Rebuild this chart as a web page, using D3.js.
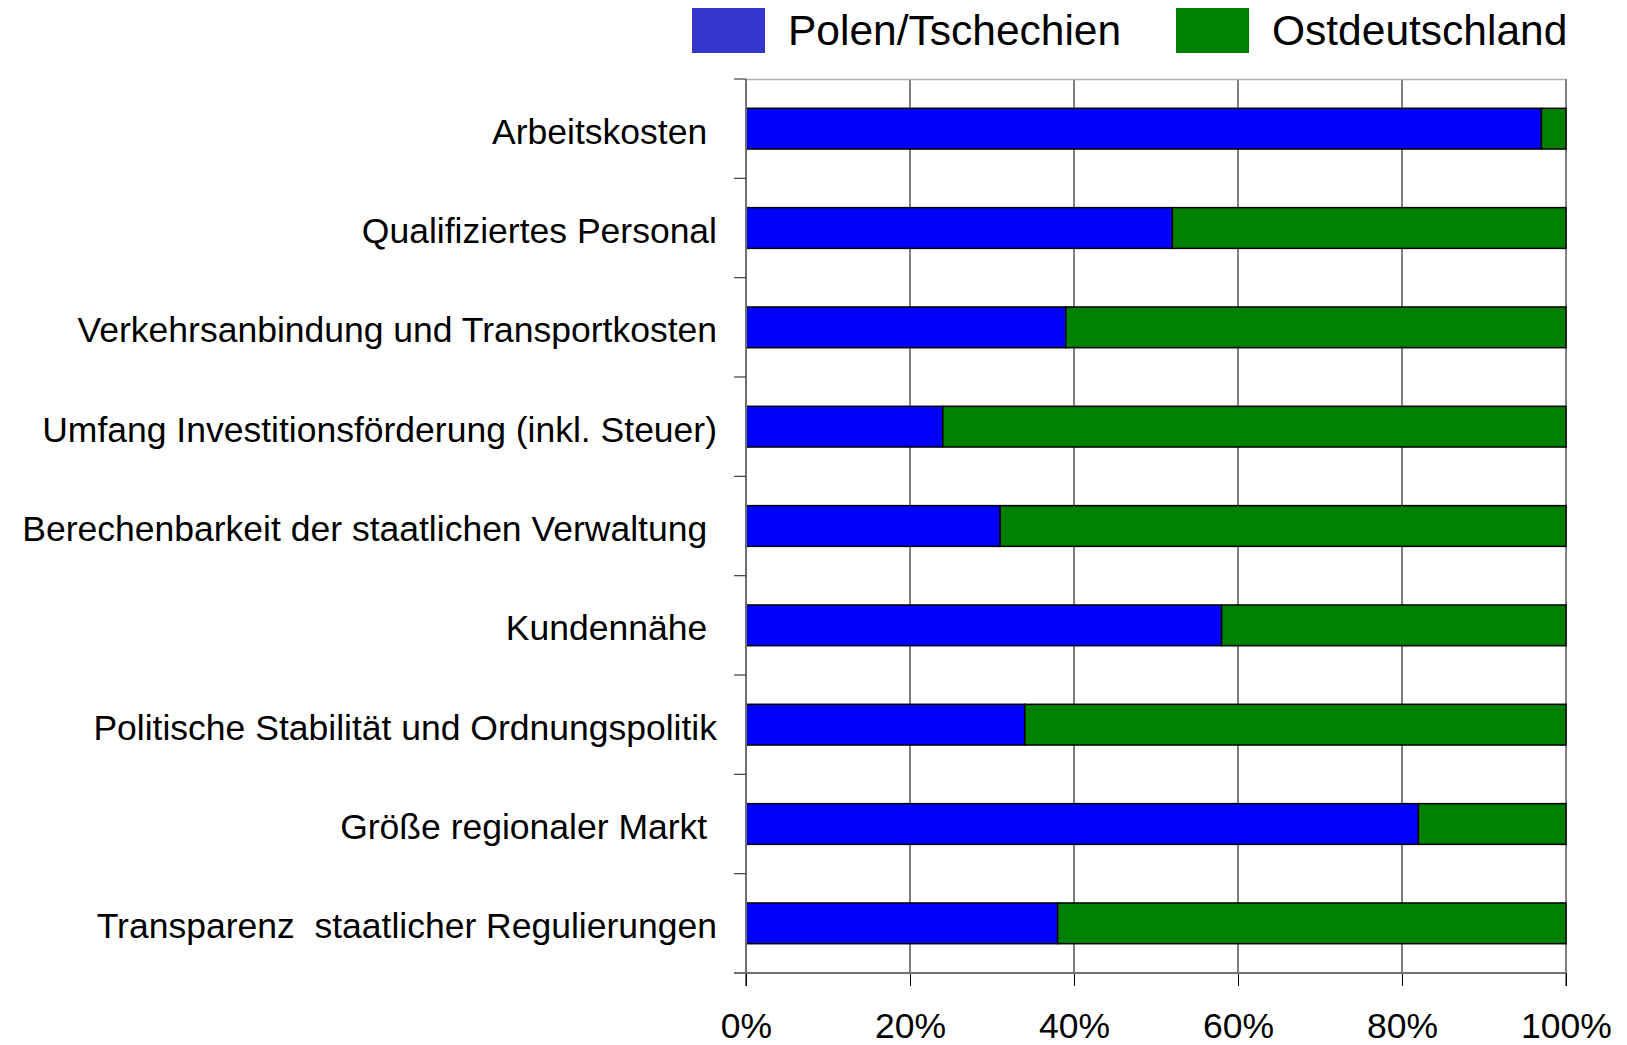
<!DOCTYPE html>
<html>
<head>
<meta charset="utf-8">
<script src="https://cdn.jsdelivr.net/npm/d3@7"></script>
<style>
    body { margin: 0; background: #fff; }
    svg text { font-family: "Liberation Sans", Arial, sans-serif; fill: #000; white-space: pre; }
</style>
</head>
<body>
<svg id="chart" width="1627" height="1045"></svg>
<script>
// categories top to bottom (labels keep their trailing spaces as in the original)
const categories = [
    "Arbeitskosten ",
    "Qualifiziertes Personal",
    "Verkehrsanbindung und Transportkosten",
    "Umfang Investitionsförderung (inkl. Steuer)",
    "Berechenbarkeit der staatlichen Verwaltung ",
    "Kundennähe ",
    "Politische Stabilität und Ordnungspolitik",
    "Größe regionaler Markt ",
    "Transparenz  staatlicher Regulierungen"
];
const polenTschechien = [97, 52, 39, 24, 31, 58, 34, 82, 38];
const ostdeutschland = [3, 48, 61, 76, 69, 42, 66, 18, 62];
const seriesNames = ["Polen/Tschechien", "Ostdeutschland"];
const xTicks = [0, 20, 40, 60, 80, 100];

const svg = d3.select("#chart");
const margin = { left: 746, right: 61, top: 79, bottom: 72 };
const width = 1627, height = 1045;

const x = d3.scaleLinear().domain([0, 100]).range([margin.left, width - margin.right]);
const y = d3.scaleBand().domain(categories).range([margin.top, height - margin.bottom]).padding(0);
const barH = y.bandwidth() * 0.41;

const colors = { "Polen/Tschechien": "#0000ff", "Ostdeutschland": "#008000" };
const legendColors = { "Polen/Tschechien": "#3636cc", "Ostdeutschland": "#008000" };

// gridlines
svg.append("g").selectAll("line")
    .data(xTicks.slice(1, -1))
    .enter().append("line")
    .attr("x1", d => x(d)).attr("x2", d => x(d))
    .attr("y1", margin.top).attr("y2", height - margin.bottom)
    .attr("stroke", "#000").attr("stroke-width", 1);

// plot frame: top and right
svg.append("line")
    .attr("x1", x(0)).attr("x2", x(100))
    .attr("y1", margin.top + 0.5).attr("y2", margin.top + 0.5)
    .attr("stroke", "#b0b0b0").attr("stroke-width", 1.5);
svg.append("line")
    .attr("x1", x(100)).attr("x2", x(100))
    .attr("y1", margin.top).attr("y2", height - margin.bottom + 13)
    .attr("stroke", "#808080").attr("stroke-width", 2);

// stacked bars
const rows = categories.map((c, i) => ({
    cat: c,
    "Polen/Tschechien": polenTschechien[i],
    "Ostdeutschland": ostdeutschland[i]
}));
const stacked = d3.stack().keys(seriesNames)(rows);

svg.append("g").selectAll("g")
    .data(stacked)
    .enter().append("g")
    .attr("fill", d => colors[d.key])
    .selectAll("rect")
    .data(d => d)
    .enter().append("rect")
    .attr("x", d => x(d[0]))
    .attr("y", d => y(d.data.cat) + (y.bandwidth() - barH) / 2)
    .attr("width", d => x(d[1]) - x(d[0]))
    .attr("height", barH)
    .attr("stroke", "#000")
    .attr("stroke-width", 1.5);

// left axis with ticks at band boundaries
const bounds = categories.map(c => y(c)).concat([y.range()[1]]);
svg.append("line")
    .attr("x1", x(0)).attr("x2", x(0))
    .attr("y1", margin.top).attr("y2", height - margin.bottom + 13)
    .attr("stroke", "#707070").attr("stroke-width", 2);
svg.append("g").selectAll("line")
    .data(bounds)
    .enter().append("line")
    .attr("x1", x(0) - 12).attr("x2", x(0))
    .attr("y1", d => d).attr("y2", d => d)
    .attr("stroke", "#404040").attr("stroke-width", 1.2);

// category labels
svg.append("g").selectAll("text")
    .data(categories)
    .enter().append("text")
    .attr("x", x(0) - 29)
    .attr("y", d => y(d) + y.bandwidth() / 2)
    .attr("dy", "0.42em")
    .attr("text-anchor", "end")
    .attr("font-size", 35.5)
    .text(d => d);

// bottom axis
const xAxis = d3.axisBottom(x)
    .tickValues(xTicks)
    .tickFormat(d => d + "%")
    .tickSize(13)
    .tickPadding(27);
const gx = svg.append("g")
    .attr("transform", `translate(0,${height - margin.bottom})`)
    .call(xAxis);
gx.select(".domain").remove();
gx.selectAll(".tick line").attr("stroke", "#000").attr("stroke-width", 1);
gx.selectAll(".tick text")
    .attr("font-size", 35.5)
    .attr("font-family", "Liberation Sans, Arial, sans-serif");
svg.append("line")
    .attr("x1", x(0) - 12).attr("x2", x(100))
    .attr("y1", height - margin.bottom).attr("y2", height - margin.bottom)
    .attr("stroke", "#707070").attr("stroke-width", 2);

// legend
const legendPos = [692, 1176];
const legend = svg.append("g").selectAll("g")
    .data(seriesNames)
    .enter().append("g")
    .attr("transform", (d, i) => `translate(${legendPos[i]},8)`);
legend.append("rect")
    .attr("width", 73).attr("height", 45)
    .attr("fill", d => legendColors[d]);
legend.append("text")
    .attr("x", 96).attr("y", 22)
    .attr("dy", "0.36em")
    .attr("font-size", 42.5)
    .text(d => d);
</script>
</body>
</html>
